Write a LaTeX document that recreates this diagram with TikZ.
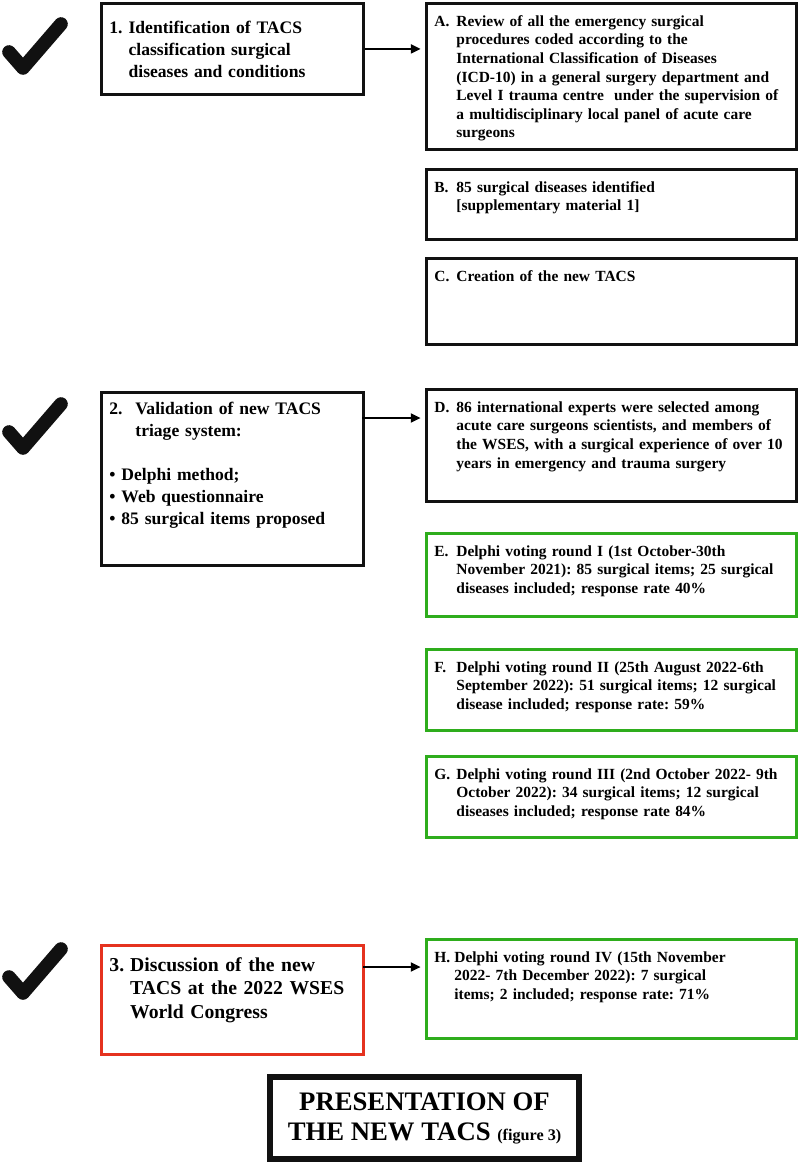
\documentclass[tikz,border=0pt]{standalone}
\usepackage{fontspec}
\setmainfont{Liberation Serif}
\usetikzlibrary{positioning, arrows.meta}
\definecolor{inkBlack}{HTML}{111111}
\definecolor{delphiGreen}{HTML}{2EAD1C}
\definecolor{congressRed}{HTML}{E5321F}

% label hanging in front of a paragraph
\newcommand{\hangitem}[3]{\hangindent=#1\hangafter=1\noindent\makebox[#1][l]{#2}#3\par}
\frenchspacing

\begin{document}
\begin{tikzpicture}[x=0.025cm, y=-0.025cm,
    phase/.style={draw=inkBlack, line width=2pt, anchor=north west, inner sep=0.2cm,
      text width=6.15cm, align=left, font=\bfseries\fontsize{12.5}{15.6}\selectfont,
      text height=0.55cm},
    detail/.style={draw=inkBlack, line width=2pt, anchor=north west, inner sep=0.2cm,
      text width=8.85cm, align=left, font=\bfseries\fontsize{11}{13.2}\selectfont,
      text height=0.375cm},
    voting/.style={detail, draw=delphiGreen},
    link/.style={-{Triangle[length=0.25cm, width=0.22cm]}, line width=1.8pt}]
    \useasboundingbox (0,0) rectangle (798,1164);

    % check marks in front of the three phases
    \foreach \dy in {0,380,925}
      \draw[inkBlack, line width=0.34cm, line cap=round, line join=round]
        (9,{52+\dy}) -- (23,{68+\dy}) -- (61,{24+\dy});

    % left column
    \node[phase, text depth=1.325cm] (stage1) at (100,2)
      {\hangitem{0.48cm}{1.}{Identification of TACS\newline classification surgical\newline diseases and conditions}};
    \node[phase, text depth=3.575cm, text height=0.35cm] (stage2) at (100,391)
      {\hangitem{0.65cm}{2.}{Validation of new TACS\newline triage system:}
       \vspace{\baselineskip}
       \hangitem{0.3cm}{\textbullet}{Delphi method;}
       \hangitem{0.3cm}{\textbullet}{Web questionnaire}
       \hangitem{0.3cm}{\textbullet}{85 surgical items proposed}};
    \node[phase, draw=congressRed, text depth=1.875cm, text height=0.45cm,
      font=\bfseries\fontsize{14}{16.6}\selectfont] (stage3) at (100,944)
      {\hangitem{0.52cm}{3.}{Discussion of the new\newline TACS at the 2022 WSES\newline World Congress}};

    % right column
    \node[detail, text depth=2.875cm] (itemA) at (425,2)
      {\hangitem{0.55cm}{A.}{Review of all the emergency surgical\newline procedures coded according to the\newline International Classification of Diseases\newline (ICD-10) in a general surgery department and\newline Level I trauma centre\ \ under the supervision of\newline a multidisciplinary local panel of acute care\newline surgeons}};
    \node[detail, text depth=0.975cm] (itemB) at (425,168)
      {\hangitem{0.55cm}{B.}{85 surgical diseases identified\newline [supplementary material 1]}};
    \node[detail, text depth=1.375cm] (itemC) at (425,257)
      {\hangitem{0.55cm}{C.}{Creation of the new TACS}};
    \node[detail, text depth=2.025cm] (itemD) at (425,388)
      {\hangitem{0.55cm}{D.}{86 international experts were selected among\newline acute care surgeons scientists, and members of\newline the WSES, with a surgical experience of over 10\newline years in emergency and trauma surgery}};
    \node[voting, text depth=1.3cm] (itemE) at (425,532)
      {\hangitem{0.55cm}{E.}{Delphi voting round I (1st October-30th\newline November 2021): 85 surgical items; 25 surgical\newline diseases included; response rate 40\%}};
    \node[voting, text depth=1.25cm] (itemF) at (425,648)
      {\hangitem{0.55cm}{F.}{Delphi voting round II (25th August 2022-6th\newline September 2022): 51 surgical items; 12 surgical\newline disease included; response rate: 59\%}};
    \node[voting, text depth=1.25cm] (itemG) at (425,755)
      {\hangitem{0.55cm}{G.}{Delphi voting round III (2nd October 2022- 9th\newline October 2022): 34 surgical items; 12 surgical\newline diseases included; response rate 84\%}};
    \node[voting, text depth=1.7cm] (itemH) at (425,938)
      {\hangitem{0.5cm}{H.}{Delphi voting round IV (15th November\newline 2022- 7th December 2022): 7 surgical\newline items; 2 included; response rate: 71\%}};

    % final outcome
    \node[draw=inkBlack, line width=4pt, minimum width=7.725cm, minimum height=2.05cm,
      align=center, font=\bfseries\fontsize{19}{21.3}\selectfont] (present) at (424.5,1118)
      {PRESENTATION OF\\THE NEW TACS {\fontsize{11.5}{13}\selectfont(figure 3)}};

    % connectors
    \coordinate (out1) at (stage1.east);
    \coordinate (out2) at (362,418);
    \coordinate (out3) at (363,967);
    \draw[link, shorten >=3pt] (out1) -- (out1 -| itemA.west);
    \draw[link, shorten >=3pt] (out2) -- (out2 -| itemD.west);
    \draw[link, shorten >=3pt] (out3) -- (out3 -| itemH.west);
\end{tikzpicture}
\end{document}
